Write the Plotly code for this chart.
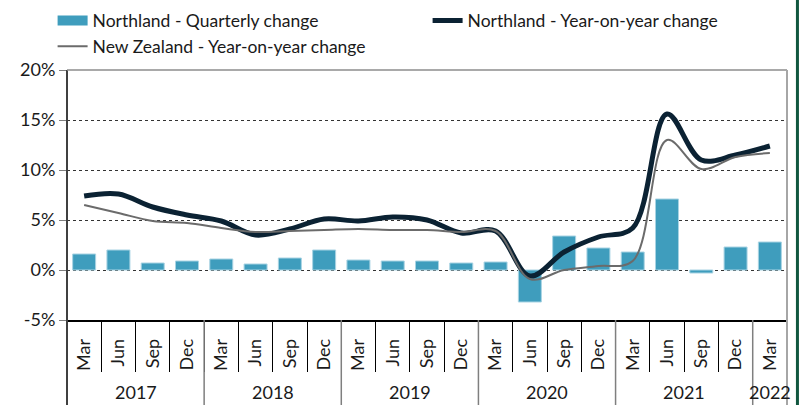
import plotly.graph_objects as go

# ---- data ----
months = ["Mar", "Jun", "Sep", "Dec"] * 5 + ["Mar"]
years = ["2017", "2018", "2019", "2020", "2021", "2022"]
year_counts = [4, 4, 4, 4, 4, 1]
quarterly = [1.6, 2.0, 0.7, 0.9, 1.1, 0.6, 1.2, 2.0, 1.0, 0.9, 0.9, 0.7,
             0.8, -3.2, 3.4, 2.2, 1.8, 7.1, -0.3, 2.3, 2.8]
northland_yoy = [7.4, 7.6, 6.3, 5.5, 4.9, 3.5, 4.1, 5.1, 4.9, 5.3, 5.0, 3.7,
                 3.9, -0.6, 1.8, 3.3, 4.2, 15.6, 11.0, 11.5, 12.4]
nz_yoy = [6.5, 5.7, 4.9, 4.7, 4.2, 3.8, 3.9, 4.0, 4.1, 4.0, 4.0, 3.8,
          3.9, -0.9, 0.0, 0.4, 0.9, 13.0, 10.1, 11.3, 11.7]
y_ticks = [-5, 0, 5, 10, 15, 20]

BAR = "#3f9dbd"
DARK = "#0b2233"
GREY = "#6b6b6b"
FONT = "Lato"

x = list(range(len(months)))
n = len(months)

fig = go.Figure()
fig.add_trace(go.Bar(x=x, y=quarterly, marker=dict(color=BAR, line=dict(color="#a8d3e3", width=1)),
                     width=0.67, showlegend=False, name="Northland - Quarterly change"))
# legend swatch for the bars
fig.add_trace(go.Scatter(x=[None], y=[None], mode="lines", line=dict(color=BAR, width=12),
                         name="Northland - Quarterly change"))
fig.add_trace(go.Scatter(x=x, y=northland_yoy, mode="lines", line=dict(color=DARK, width=5, shape="spline", smoothing=1),
                         name="Northland - Year-on-year change"))
fig.add_trace(go.Scatter(x=x, y=nz_yoy, mode="lines", line=dict(color=GREY, width=2, shape="spline", smoothing=1),
                         name="New Zealand - Year-on-year change"))

# year separators and labels
shapes = []
annotations = []
start = 0
bounds = [-0.5]
for yr, c in zip(years, year_counts):
    annotations.append(dict(x=start + (c - 1) / 2, y=-0.288, xref="x", yref="paper", text=yr,
                            showarrow=False, yanchor="middle", font=dict(size=18, color="#1a1a1a", family=FONT)))
    start += c
    bounds.append(start - 0.5)
for b in bounds:
    shapes.append(dict(type="line", xref="x", yref="paper", x0=b, x1=b, y0=0, y1=-0.34,
                       line=dict(color="#7f7f7f", width=1.5), layer="above"))
# left axis line, top border, right border
shapes.append(dict(type="line", xref="paper", yref="paper", x0=0, x1=0, y0=-0.34, y1=1,
                   line=dict(color="#404040", width=2)))
shapes.append(dict(type="line", xref="paper", yref="paper", x0=0, x1=1, y0=1, y1=1,
                   line=dict(color="#8c8c8c", width=1.5)))
shapes.append(dict(type="line", xref="paper", yref="paper", x0=1, x1=1, y0=-0.34, y1=1,
                   line=dict(color="#a6a6a6", width=2)))
# dark green page edge
shapes.append(dict(type="line", xref="paper", yref="paper", x0=1.0145, x1=1.0145, y0=-0.35, y1=1.3,
                   line=dict(color="#11573f", width=3)))

fig.update_layout(
    width=804, height=405,
    margin=dict(l=67, r=17, t=70, b=85, autoexpand=False),
    plot_bgcolor="white", paper_bgcolor="white",
    font=dict(family=FONT, size=17, color="#1a1a1a"),
    bargap=0.33,
    legend=dict(orientation="h", x=-0.02, y=1.27, xanchor="left", yanchor="top",
                entrywidth=330, entrywidthmode="pixels", font=dict(size=17.5, family=FONT),
                traceorder="normal", tracegroupgap=0, itemwidth=30, bgcolor="rgba(0,0,0,0)"),
    xaxis=dict(range=[-0.5, n - 0.5], tickmode="array", tickvals=x, ticktext=months,
               tickangle=-90, ticks="", showgrid=False, zeroline=False, automargin=False,
               showline=True, linecolor="black", linewidth=1.5,
               tickfont=dict(size=18, family=FONT), ticklabelstandoff=10,
               minor=dict(tickmode="array", tickvals=[i - 0.5 for i in range(n + 1)],
                          ticks="outside", ticklen=50, tickcolor="black", tickwidth=1, showgrid=False)),
    yaxis=dict(range=[-5, 20], tickmode="array", tickvals=y_ticks, automargin=False,
               ticktext=[f"{v}%" for v in y_ticks], showgrid=True, gridcolor="#333333",
               griddash="dot", gridwidth=1, zeroline=False, ticks="outside", ticklen=7,
               tickcolor="#7f7f7f", tickfont=dict(size=18, family=FONT), showline=False),
    shapes=shapes, annotations=annotations,
)

fig.write_html("out.html", config={"displayModeBar": False})
with open("out.html", encoding="utf-8") as f:
    html = f.read()
html = html.replace("<head>", "<head><style>html,body{margin:0;padding:0;overflow:hidden;}</style>", 1)
with open("out.html", "w", encoding="utf-8") as f:
    f.write(html)
